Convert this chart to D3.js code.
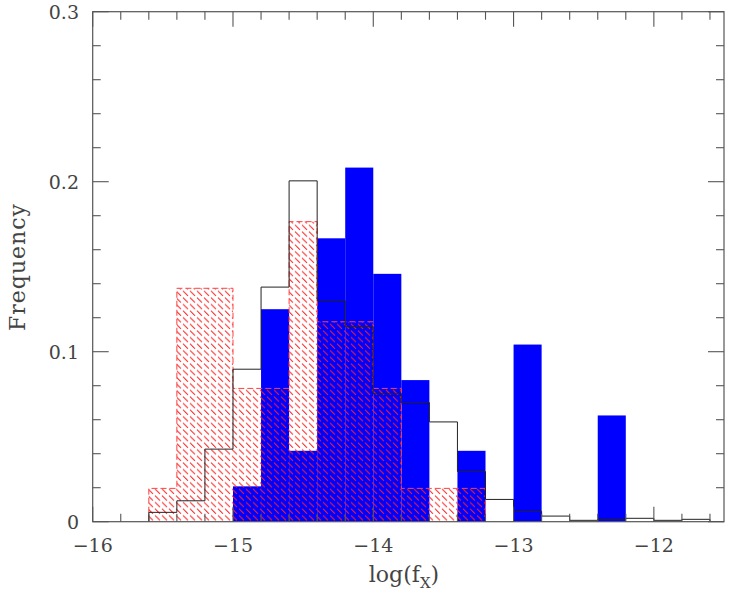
<!DOCTYPE html>
<html><head><meta charset="utf-8">
<script src="https://cdn.jsdelivr.net/npm/d3@7"></script>
<style>body{margin:0;background:#fff}svg{display:block}text{font-family:"DejaVu Serif","Liberation Serif",serif;fill:#444}</style>
</head><body>
<svg id="c" width="729" height="597"></svg>
<script>
// bin left edges (log fx), width 0.2
const binWidth = 0.2;
const blackBins = [-15.6,-15.4,-15.2,-15.0,-14.8,-14.6,-14.4,-14.2,-14.0,-13.8,-13.6,-13.4,-13.2,-13.0,-12.8,-12.6,-12.4,-12.2,-12.0,-11.8,-11.6];
const blackVals = [0.0055,0.0123,0.0427,0.0897,0.138,0.2005,0.130,0.1147,0.0752,0.0701,0.0587,0.0295,0.0131,0.0061,0.0033,0.0008,0.0014,0.002,0.0008,0.0014,0.0];
const blueBins = [-15.0,-14.8,-14.6,-14.4,-14.2,-14.0,-13.8,-13.6,-13.4,-13.2,-13.0,-12.8,-12.6,-12.4];
const blueVals = [0.0208,0.125,0.0417,0.1667,0.2083,0.1458,0.0833,0,0.0417,0,0.1042,0,0,0.0625];
const redBins = [-15.6,-15.4,-15.2,-15.0,-14.8,-14.6,-14.4,-14.2,-14.0,-13.8,-13.6,-13.4];
const redVals = [0.0196,0.1373,0.1373,0.0784,0.0784,0.1765,0.1176,0.1176,0.0784,0.0196,0.0196,0.0196];
const xMajor = [-16,-15,-14,-13,-12];
const yMajor = [0,0.1,0.2,0.3];
const yLabels = ["0","0.1","0.2","0.3"];

const svg = d3.select("#c");
const x = d3.scaleLinear().domain([-16,-11.5]).range([92.7,724]);
const y = d3.scaleLinear().domain([0,0.3]).range([521.7,11.7]);

const defs = svg.append("defs");
const pat = defs.append("pattern").attr("id","hatch").attr("patternUnits","userSpaceOnUse")
  .attr("width",7).attr("height",6.6);
pat.append("line").attr("x1",1).attr("y1",0.6).attr("x2",6).attr("y2",5.6)
  .attr("stroke","#ff2020").attr("stroke-width",1);
defs.append("clipPath").attr("id","clip").append("rect")
  .attr("x",x(-16)).attr("y",y(0.3)).attr("width",x(-11.5)-x(-16)).attr("height",y(0)-y(0.3));

const g = svg.append("g").attr("clip-path","url(#clip)");

// blue filled
g.selectAll("rect.blue").data(blueBins.map((b,i)=>({b,v:blueVals[i]})).filter(d=>d.v>0))
  .join("rect").attr("class","blue")
  .attr("x",d=>x(d.b)).attr("width",d=>x(d.b+binWidth)-x(d.b))
  .attr("y",d=>y(d.v)).attr("height",d=>y(0)-y(d.v))
  .attr("fill","#0000ff");

// red hatched
g.selectAll("rect.red").data(redBins.map((b,i)=>({b,v:redVals[i]})))
  .join("rect").attr("class","red")
  .attr("x",d=>x(d.b)).attr("width",d=>x(d.b+binWidth)-x(d.b))
  .attr("y",d=>y(d.v)).attr("height",d=>y(0)-y(d.v))
  .attr("fill","url(#hatch)");

function stepPath(bins, vals){
  const pts=[[x(bins[0]),y(0)]];
  bins.forEach((b,i)=>{pts.push([x(b),y(vals[i])]);pts.push([x(b+binWidth),y(vals[i])]);});
  pts.push([x(bins[bins.length-1]+binWidth),y(0)]);
  return d3.line()(pts);
}
g.append("path").attr("d",stepPath(redBins,redVals)).attr("fill","none")
  .attr("stroke","#ff4040").attr("stroke-width",1).attr("stroke-dasharray","6,3");
g.append("path").attr("d",stepPath(blackBins,blackVals)).attr("fill","none")
  .attr("stroke","#222").attr("stroke-width",1);

// frame
svg.append("rect").attr("x",x(-16)).attr("y",y(0.3)).attr("width",x(-11.5)-x(-16)).attr("height",y(0)-y(0.3))
  .attr("fill","none").attr("stroke","#555").attr("stroke-width",1.2);

// ticks
const xMinor = d3.range(-16,-11.5+1e-9,0.2).map(v=>+v.toFixed(1));
const yMinor = d3.range(0,0.3+1e-9,0.02).map(v=>+v.toFixed(2));
const tk = svg.append("g").attr("stroke","#555").attr("stroke-width",1.1);
xMinor.forEach(v=>{
  const major = xMajor.some(m=>Math.abs(m-v)<1e-6);
  const L = major?15:8;
  tk.append("line").attr("x1",x(v)).attr("x2",x(v)).attr("y1",y(0)).attr("y2",y(0)-L);
  tk.append("line").attr("x1",x(v)).attr("x2",x(v)).attr("y1",y(0.3)).attr("y2",y(0.3)+L);
});
yMinor.forEach(v=>{
  const major = yMajor.some(m=>Math.abs(m-v)<1e-6);
  const L = major?16:8;
  tk.append("line").attr("y1",y(v)).attr("y2",y(v)).attr("x1",x(-16)).attr("x2",x(-16)+L);
  tk.append("line").attr("y1",y(v)).attr("y2",y(v)).attr("x1",x(-11.5)).attr("x2",x(-11.5)-L);
});

// labels
const fs = 19;
svg.selectAll("text.xl").data(xMajor).join("text").attr("class","xl")
  .attr("x",d=>x(d)).attr("y",552).attr("text-anchor","middle").attr("font-size",fs)
  .text(d=>"\u2212"+Math.abs(d));
svg.selectAll("text.yl").data(yMajor).join("text").attr("class","yl")
  .attr("x",79).attr("y",d=>y(d)+7).attr("text-anchor","end").attr("font-size",fs)
  .text((d,i)=>yLabels[i]);
const xt = svg.append("text").attr("x",404).attr("y",582).attr("text-anchor","middle").attr("font-size",22);
xt.append("tspan").text("log(f");
xt.append("tspan").attr("font-size",15).attr("dy",6).text("X");
xt.append("tspan").attr("dy",-6).text(")");
svg.append("text").attr("transform","translate(25,267) rotate(-90)").attr("text-anchor","middle")
  .attr("font-size",22).attr("letter-spacing",1).text("Frequency");
</script>
</body></html>
